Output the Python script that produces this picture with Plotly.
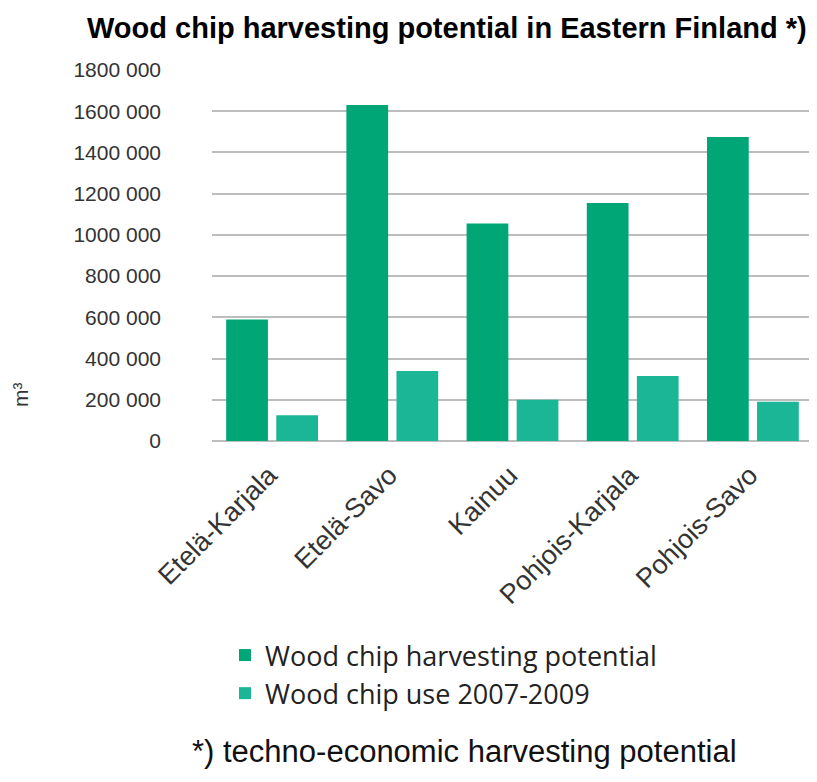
import plotly.graph_objects as go

regions = ["Etelä-Karjala", "Etelä-Savo", "Kainuu", "Pohjois-Karjala", "Pohjois-Savo"]
potential = [590000, 1630000, 1055000, 1155000, 1475000]
use_0709 = [125000, 340000, 200000, 315000, 190000]
y_ticks = [0, 200000, 400000, 600000, 800000, 1000000, 1200000, 1400000, 1600000, 1800000]
y_tick_labels = ["0", "200 000", "400 000", "600 000", "800 000", "1000 000",
                 "1200 000", "1400 000", "1600 000", "1800 000"]

fig = go.Figure()
fig.add_trace(go.Bar(x=regions, y=potential, name="Wood chip harvesting potential",
                     marker=dict(color="#00A676", line=dict(width=0))))
fig.add_trace(go.Bar(x=regions, y=use_0709, name="Wood chip use 2007-2009",
                     marker=dict(color="#1BB696", line=dict(width=0))))

# the page body has an 8px margin: work in image pixels and subtract it
OFF = 8
W, H = 817, 782
L = 212 - OFF
T = 70 - OFF
R = W - (813 - OFF)
B = H - (441 - OFF)
pw, ph = W - L - R, H - T - B

def px(x):
    return (x - OFF - L) / pw

def py(y):
    return (H - B - (y - OFF)) / ph

fig.update_layout(
    width=W, height=H,
    margin=dict(l=L, r=R, t=T, b=B),
    paper_bgcolor="white", plot_bgcolor="white",
    barmode="group", bargap=0.167, bargroupgap=0.166,
    font=dict(family="Liberation Sans, Arial", size=21, color="#333333"),
    showlegend=True,
    legend=dict(x=px(243 - 18), y=py(631), xanchor="left", yanchor="top",
                font=dict(family="Open Sans, sans-serif", size=27, color="#222222"),
                bgcolor="rgba(0,0,0,0)", itemwidth=30, tracegroupgap=2),
    xaxis=dict(tickangle=-45, showline=False, showgrid=False, ticks="",
               ticklabelstandoff=12, ticklabelshift=-3,
               tickfont=dict(size=27, color="#333333")),
    yaxis=dict(range=[0, 1800000], tickvals=y_ticks, ticktext=y_tick_labels,
               showgrid=True, gridcolor="#BDBDBD", gridwidth=2,
               zeroline=True, zerolinecolor="#BDBDBD", zerolinewidth=2,
               ticks="", ticklabelstandoff=50,
               tickfont=dict(size=21, color="#333333")),
    annotations=[
        dict(text="<b>Wood chip harvesting potential in Eastern Finland *)</b>",
             xref="paper", yref="paper", x=px(447), y=py(28), showarrow=False,
             xanchor="center", yanchor="middle",
             font=dict(family="Liberation Sans, Arial", size=29, color="#000000")),
        dict(text="m³", xref="paper", yref="paper", x=px(20), y=py(395),
             showarrow=False, textangle=-90, xanchor="center", yanchor="middle",
             font=dict(family="Liberation Sans, Arial", size=21, color="#333333")),
        dict(text="*) techno-economic harvesting potential",
             xref="paper", yref="paper", x=px(464), y=py(752), showarrow=False,
             xanchor="center", yanchor="middle",
             font=dict(family="Liberation Sans, Arial", size=31, color="#111111")),
    ],
)

fig.write_html("out.html")
